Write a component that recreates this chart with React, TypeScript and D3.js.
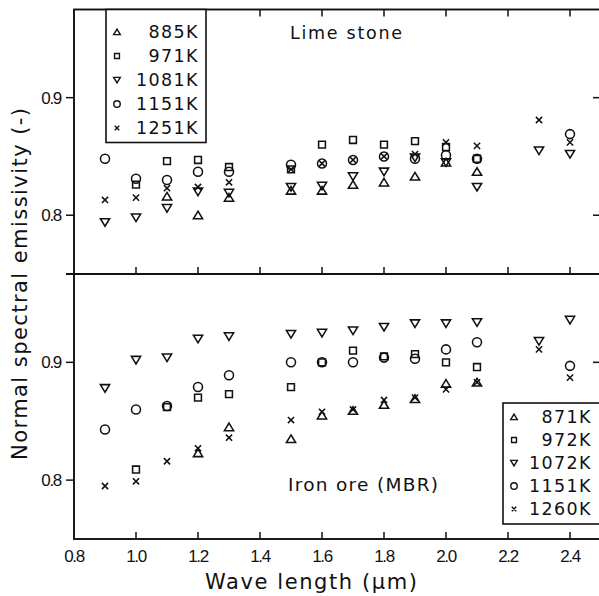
import React from "react";
import * as d3 from "d3";

// Canvas
const W = 599;
const H = 596;

// Axis ticks
const xTicks = [0.8, 1.0, 1.2, 1.4, 1.6, 1.8, 2.0, 2.2, 2.4];
const yTicks = [0.8, 0.9];

// Legend labels (temperature of each run) and the marker used for each run
const limeTemps = ["885K", "971K", "1081K", "1151K", "1251K"];
const ironTemps = ["871K", "972K", "1072K", "1151K", "1260K"];
const markerKinds = ["up", "square", "down", "circle", "cross"];

// Lime stone: [wavelength (µm), normal spectral emissivity]
const lime885 = [[1.1, 0.816], [1.2, 0.800], [1.3, 0.815], [1.5, 0.821], [1.6, 0.821], [1.7, 0.826], [1.8, 0.828], [1.9, 0.833], [2.0, 0.845], [2.1, 0.837]];
const lime971 = [[1.0, 0.826], [1.1, 0.846], [1.2, 0.847], [1.3, 0.841], [1.5, 0.839], [1.6, 0.860], [1.7, 0.864], [1.8, 0.860], [1.9, 0.863], [2.0, 0.858], [2.1, 0.848]];
const lime1081 = [[0.9, 0.794], [1.0, 0.798], [1.1, 0.806], [1.2, 0.820], [1.3, 0.819], [1.5, 0.824], [1.6, 0.825], [1.7, 0.833], [1.8, 0.837], [1.9, 0.849], [2.0, 0.845], [2.1, 0.824], [2.3, 0.855], [2.4, 0.852]];
const lime1151 = [[0.9, 0.848], [1.0, 0.831], [1.1, 0.830], [1.2, 0.837], [1.3, 0.837], [1.5, 0.843], [1.6, 0.844], [1.7, 0.847], [1.8, 0.850], [1.9, 0.848], [2.0, 0.851], [2.1, 0.848], [2.4, 0.869]];
const lime1251 = [[0.9, 0.813], [1.0, 0.815], [1.1, 0.823], [1.2, 0.824], [1.3, 0.828], [1.5, 0.839], [1.6, 0.844], [1.7, 0.847], [1.8, 0.850], [1.9, 0.852], [2.0, 0.862], [2.1, 0.859], [2.3, 0.881], [2.4, 0.862]];

// Iron ore (MBR): [wavelength (µm), normal spectral emissivity]
const iron871 = [[1.2, 0.823], [1.3, 0.845], [1.5, 0.835], [1.6, 0.855], [1.7, 0.859], [1.8, 0.864], [1.9, 0.869], [2.0, 0.882], [2.1, 0.883]];
const iron972 = [[1.0, 0.809], [1.1, 0.862], [1.2, 0.870], [1.3, 0.873], [1.5, 0.879], [1.6, 0.900], [1.7, 0.910], [1.8, 0.905], [1.9, 0.907], [2.0, 0.900], [2.1, 0.896]];
const iron1072 = [[0.9, 0.878], [1.0, 0.902], [1.1, 0.904], [1.2, 0.920], [1.3, 0.922], [1.5, 0.924], [1.6, 0.925], [1.7, 0.927], [1.8, 0.930], [1.9, 0.933], [2.0, 0.933], [2.1, 0.934], [2.3, 0.918], [2.4, 0.936]];
const iron1151 = [[0.9, 0.843], [1.0, 0.860], [1.1, 0.863], [1.2, 0.879], [1.3, 0.889], [1.5, 0.900], [1.6, 0.900], [1.7, 0.900], [1.8, 0.904], [1.9, 0.903], [2.0, 0.911], [2.1, 0.917], [2.4, 0.897]];
const iron1260 = [[0.9, 0.795], [1.0, 0.799], [1.1, 0.816], [1.2, 0.827], [1.3, 0.836], [1.5, 0.851], [1.6, 0.858], [1.7, 0.860], [1.8, 0.868], [1.9, 0.870], [2.0, 0.877], [2.1, 0.883], [2.3, 0.911], [2.4, 0.887]];

const limeSeries = [lime885, lime971, lime1081, lime1151, lime1251];
const ironSeries = [iron871, iron972, iron1072, iron1151, iron1260];

// Layout
const left = 74;
const right = 601;
const topY = 9.5;
const midY = 274;
const bottomY = 539;

const x = d3.scaleLinear().domain([0.8, 2.5]).range([left, right]);
const yTop = d3.scaleLinear().domain([0.75, 0.975]).range([midY, topY]);
const yBot = d3.scaleLinear().domain([0.75, 0.975]).range([bottomY, midY]);

const FONT = "'DejaVu Sans', 'Liberation Sans', sans-serif";
const TICK_FONT = "'Liberation Sans', Arial, sans-serif";

function Marker({ kind, cx, cy, s, sw }: { kind: string; cx: number; cy: number; s: number; sw: number }) {
  const common = { fill: "none", stroke: "#111", strokeWidth: sw };
  if (kind === "circle") return <circle cx={cx} cy={cy} r={s * 0.9} {...common} />;
  let d = "";
  if (kind === "up") d = `M0,${-s * 0.8}L${s * 0.92},${s * 0.72}L${-s * 0.92},${s * 0.72}Z`;
  else if (kind === "down") d = `M0,${s * 0.8}L${s * 0.92},${-s * 0.72}L${-s * 0.92},${-s * 0.72}Z`;
  else if (kind === "square") {
    const a = s * 0.68;
    d = `M${-a},${-a}H${a}V${a}H${-a}Z`;
  } else if (kind === "cross") {
    const c = s * 0.62;
    d = `M${-c},${-c}L${c},${c}M${c},${-c}L${-c},${c}`;
  }
  return <path d={d} transform={`translate(${cx},${cy})`} {...common} />;
}

function Panel({ series, y }: { series: number[][][]; y: d3.ScaleLinear<number, number> }) {
  return (
    <g>
      {series.map((pts, i) =>
        pts.map(([w, e], j) => (
          <Marker key={`${i}-${j}`} kind={markerKinds[i]} cx={x(w)} cy={y(e)} s={5} sw={1.55} />
        ))
      )}
    </g>
  );
}

function Legend({ labels, x0, y0, w, h, symX, textX, rowY }: {
  labels: string[]; x0: number; y0: number; w: number; h: number; symX: number; textX: number; rowY: number[];
}) {
  return (
    <g>
      <rect x={x0} y={y0} width={w} height={h} fill="#fff" stroke="#111" strokeWidth={1.6} />
      {labels.map((lab, i) => (
        <g key={lab}>
          <Marker kind={markerKinds[i]} cx={symX} cy={rowY[i] - 6} s={3.6} sw={1.4} />
          <text x={textX} y={rowY[i]} textAnchor="end" fontFamily={FONT} fontSize={17.5}
            letterSpacing={1.4} fill="#111">{lab}</text>
        </g>
      ))}
    </g>
  );
}

export default function App() {
  const inner = xTicks.filter((t) => t > 0.8);
  return (
    <svg width={W} height={H} viewBox={`0 0 ${W} ${H}`}
      style={{ position: "absolute", left: 0, top: 0, background: "#fff" }}>
      <rect x={0} y={0} width={W} height={H} fill="#fff" />

      {/* frame and panel divider */}
      <g stroke="#111" strokeWidth={1.9} fill="none">
        <rect x={left} y={topY} width={right - left} height={bottomY - topY} />
        <line x1={66} x2={right} y1={midY} y2={midY} />
      </g>

      {/* x ticks: inward on bottom, top and divider */}
      <g stroke="#111" strokeWidth={1.5}>
        {inner.map((t) => (
          <g key={t}>
            <line x1={x(t)} x2={x(t)} y1={bottomY} y2={bottomY - 7} />
            <line x1={x(t)} x2={x(t)} y1={midY} y2={midY - 7} />
            <line x1={x(t)} x2={x(t)} y1={topY} y2={topY + 7} />
          </g>
        ))}
      </g>

      {/* y ticks: outward on the left, inward on the right */}
      <g stroke="#111" strokeWidth={1.5}>
        {[yTop, yBot].map((ys, k) =>
          yTicks.map((t) => (
            <g key={`${k}-${t}`}>
              <line x1={left - 8} x2={left} y1={ys(t)} y2={ys(t)} />
              <line x1={right - 8} x2={right} y1={ys(t)} y2={ys(t)} />
            </g>
          ))
        )}
      </g>

      {/* tick labels */}
      <g fontFamily={TICK_FONT} fontSize={17} fill="#111">
        {xTicks.map((t) => (
          <text key={t} x={x(t)} y={562} textAnchor="middle" letterSpacing={-1.3}>{t.toFixed(1)}</text>
        ))}
        {[yTop, yBot].map((ys, k) =>
          yTicks.map((t) => (
            <text key={`${k}-${t}`} x={61} y={ys(t) + 6} textAnchor="end" letterSpacing={-1.3}>{t.toFixed(1)}</text>
          ))
        )}
      </g>

      {/* axis titles */}
      <text x={205} y={589} fontFamily={FONT} fontSize={21} fill="#111" textLength={212}
        lengthAdjust="spacing">Wave length (µm)</text>
      <text transform="translate(27,460) rotate(-90)" x={0} y={0} fontFamily={FONT} fontSize={21}
        fill="#111" textLength={352} lengthAdjust="spacing">Normal spectral emissivity (-)</text>

      {/* panel labels */}
      <text x={290} y={39} fontFamily={FONT} fontSize={17.5} fill="#111" textLength={112}
        lengthAdjust="spacing">Lime stone</text>
      <text x={288} y={491} fontFamily={FONT} fontSize={18.5} fill="#111" textLength={150}
        lengthAdjust="spacing">Iron ore (MBR)</text>

      {/* data */}
      <Panel series={limeSeries} y={yTop} />
      <Panel series={ironSeries} y={yBot} />

      {/* legends */}
      <Legend labels={limeTemps} x0={106} y0={topY} w={100} h={133} symX={117} textX={199}
        rowY={[38, 62, 86, 110, 134]} />
      <Legend labels={ironTemps} x0={503} y0={403} w={110} h={121} symX={514} textX={592}
        rowY={[423, 446, 469, 492, 515]} />
    </svg>
  );
}
